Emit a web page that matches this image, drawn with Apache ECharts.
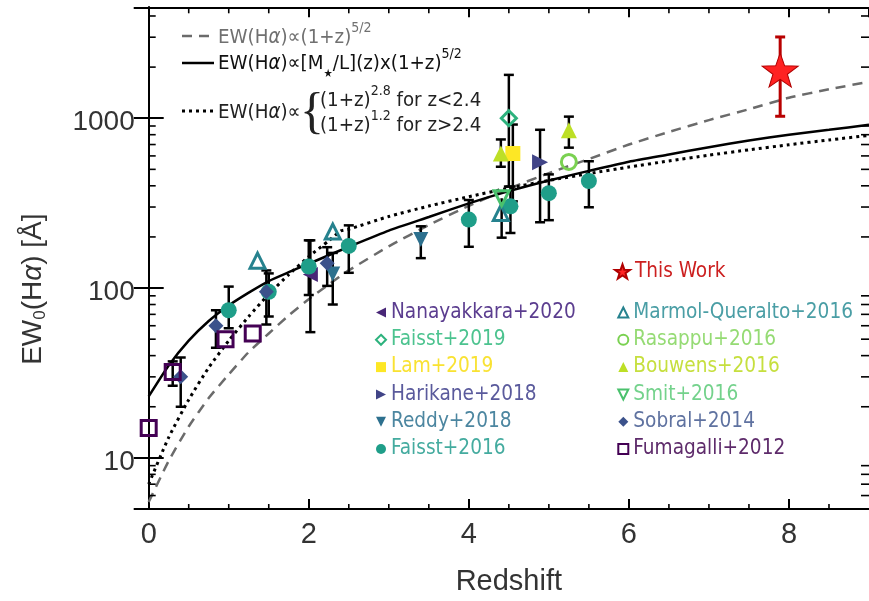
<!DOCTYPE html>
<html>
<head>
<meta charset="utf-8">
<title>EW(Hα) vs redshift</title>
<script src="https://cdn.jsdelivr.net/npm/echarts@6/dist/echarts.min.js"></script>
<style>
  html, body { margin: 0; padding: 0; background: #fff; }
  #chart { width: 869px; height: 601px; }
</style>
</head>
<body>
<div id="chart"></div>
<script>
// axis ticks
const xTicks = [0, 2, 4, 6, 8];
const xMinor = [0.5, 1, 1.5, 2.5, 3, 3.5, 4.5, 5, 5.5, 6.5, 7, 7.5, 8.5];
const yTicks = [10, 100, 1000];
const yMinor = [6, 7, 8, 9, 20, 30, 40, 50, 60, 70, 80, 90,
  200, 300, 400, 500, 600, 700, 800, 900, 2000, 3000, 4000];

// model curves
const zCurve = [0, 0.25, 0.5, 0.75, 1, 1.25, 1.5, 1.75, 2, 2.25, 2.5, 3, 3.5, 4, 4.5, 5, 5.5, 6, 6.5, 7, 7.5, 8, 8.5, 9];
const ewDashed = [5.5, 9.6, 15.3, 22.5, 31, 42, 54, 69, 86, 105, 127, 176, 235, 305, 385, 475, 575, 700, 830, 975, 1130, 1320, 1480, 1640];
const ewSolid = [23, 35, 49, 64, 79, 94, 110, 124, 139, 156, 175, 218, 262, 315, 372, 430, 490, 555, 612, 675, 740, 800, 855, 915];
const zDotted = [0, 0.25, 0.5, 0.75, 1, 1.25, 1.5, 1.75, 2, 2.25, 2.4, 2.5, 3, 3.5, 4, 4.5, 5, 5.5, 6, 6.5, 7, 7.5, 8, 8.5, 9];
const ewDotted = [7.0, 13.2, 22, 34, 49, 68, 92, 120, 153, 190, 217, 222, 264, 304, 345, 388, 430, 472, 516, 560, 606, 652, 698, 745, 792];

// measurements: [z, EW, lower, upper]  (no bounds = no error bar)
const nanayakkara2020 = [[2.02, 120, 55, 191]];
const faisst2019 = [[4.50, 1000, 396, 1800]];
const lam2019 = [[4.55, 620, 324, 918]];
const harikane2018 = [[4.89, 550, 244, 855]];
const reddy2018 = [[2.30, 121, 80, 161], [3.40, 193, 150, 231]];
const faisst2016 = [[1.0, 74, 58, 102], [1.5, 95, 68, 122], [2.0, 134, 91, 191], [2.5, 177, 123, 234],
  [4.0, 253, 175, 330], [4.52, 303, 211, 396], [5.0, 362, 251, 467], [5.5, 427, 299, 558]];
const marmol2016 = [[1.36, 145], [2.30, 215], [4.40, 277]];
const rasappu2016 = [[5.25, 553]];
const bouwens2016 = [[4.40, 620, 518, 750], [5.25, 850, 671, 1022]];
const smit2016 = [[4.41, 338, 198, 338]];
const sobral2014 = [[0.40, 30, 20, 39], [0.84, 60, 44.5, 74], [1.47, 95, 61, 127], [2.23, 140, 103, 174]];
const fumagalli2012 = [[0.0, 15], [0.30, 32, 26.6, 37], [0.96, 50], [1.30, 54]];
const thisWork = [[7.89, 1920, 1027, 3010]];

const X_MIN = 0, X_MAX = 9, Y_MIN = 5, Y_MAX = 4500;
const tickFont = "'Liberation Sans', Arial, sans-serif";
const textFont = "'DejaVu Sans Condensed', 'Liberation Sans', sans-serif";
const starPath = 'path://M0,-10L2.35,-3.24L9.51,-3.09L3.8,1.24L5.88,8.09L0,4L-5.88,8.09L-3.8,1.24L-9.51,-3.09L-2.35,-3.24Z';
const triLeft = 'path://M0,5L10,0L10,10Z';
const triRight = 'path://M0,0L10,5L0,10Z';
const triDown = 'path://M0,0L10,0L5,10Z';

const chart = echarts.init(document.getElementById('chart'));

function points(name, rows, symbol, size, color, hollow) {
  return {
    type: 'scatter', name: name, z: 4,
    data: rows.map(r => [r[0], r[1]]),
    symbol: symbol, symbolSize: size,
    itemStyle: hollow
      ? { color: 'rgba(255,255,255,0)', borderColor: color, borderWidth: 3, opacity: 1 }
      : { color: color, opacity: 1 }
  };
}

function errorBars(rows, color, width, cap) {
  return {
    type: 'custom', z: 3, silent: true, clip: false,
    data: rows.filter(r => r.length === 4),
    encode: { x: 0, y: 1 },
    renderItem: function (params, api) {
      const z = api.value(0), v = api.value(1), lo = api.value(2), hi = api.value(3);
      const a = api.coord([z, lo]), b = api.coord([z, hi]);
      const st = { stroke: color, lineWidth: width };
      const kids = [{ type: 'line', shape: { x1: a[0], y1: a[1], x2: b[0], y2: b[1] }, style: st }];
      if (lo < v) kids.push({ type: 'line', shape: { x1: a[0] - cap, y1: a[1], x2: a[0] + cap, y2: a[1] }, style: st });
      if (hi > v) kids.push({ type: 'line', shape: { x1: b[0] - cap, y1: b[1], x2: b[0] + cap, y2: b[1] }, style: st });
      return { type: 'group', children: kids };
    }
  };
}

const allRows = [].concat(nanayakkara2020, faisst2019, lam2019, harikane2018, reddy2018, faisst2016,
  marmol2016, rasappu2016, bouwens2016, smit2016, sobral2014, fumagalli2012);

const textColor = {
  'Nanayakkara+2020': '#5b3d8f', 'Faisst+2019': '#4cc38f', 'Lam+2019': '#f9e232',
  'Harikane+2018': '#5a5a9c', 'Reddy+2018': '#4c86a0', 'Faisst+2016': '#44ab9f',
  'Marmol-Queralto+2016': '#4a9ea5', 'Rasappu+2016': '#95db74', 'Bouwens+2016': '#c6df3e',
  'Smit+2016': '#74d28c', 'Sobral+2014': '#5f72a0', 'Fumagalli+2012': '#5e2b6b',
  'This Work': '#cc1f1f'
};
const leftNames = ['Nanayakkara+2020', 'Faisst+2019', 'Lam+2019', 'Harikane+2018', 'Reddy+2018', 'Faisst+2016'];
const rightNames = ['Marmol-Queralto+2016', 'Rasappu+2016', 'Bouwens+2016', 'Smit+2016', 'Sobral+2014', 'Fumagalli+2012'];

function legendCol(names, left, top, size) {
  return {
    orient: 'vertical', left: left, top: top, selectedMode: false,
    itemWidth: size, itemHeight: size, itemGap: 6.3, padding: 0,
    textStyle: { fontSize: 20.6, fontFamily: textFont, lineHeight: 20 },
    data: names.map(n => ({ name: n, textStyle: { color: textColor[n] } }))
  };
}

const axisLine = { show: true, lineStyle: { color: '#000', width: 2 } };

// rich styles for the curve legend (superscripts / subscripts)
const rich = {
  t: { fontSize: 20.3, fontFamily: textFont, lineHeight: 20, verticalAlign: 'middle' },
  i: { fontSize: 20.3, fontFamily: textFont, fontStyle: 'italic', lineHeight: 20, verticalAlign: 'middle' },
  s: { fontSize: 14, fontFamily: textFont, lineHeight: 36, verticalAlign: 'top', padding: [1, 0, 22, 0] },
  b: { fontSize: 11.5, fontFamily: textFont, lineHeight: 36, verticalAlign: 'bottom', padding: [0, 0, 2, 0] }
};

const option = {
  animation: false,
  backgroundColor: '#fff',
  grid: { left: 148.7, right: -5, top: 7.3, bottom: 87, containLabel: false },
  xAxis: [
    {
      type: 'value', min: X_MIN, max: X_MAX, interval: 2, position: 'bottom',
      axisLine: axisLine, splitLine: { show: false },
      axisTick: { inside: true, length: 10, lineStyle: { color: '#000', width: 2 } },
      axisLabel: {
        fontSize: 29, fontFamily: tickFont, color: '#333', margin: 11, showMaxLabel: false,
        formatter: v => (xTicks.indexOf(v) >= 0 ? String(v) : '')
      },
      name: 'Redshift', nameLocation: 'middle', nameGap: 58,
      nameTextStyle: { fontSize: 29, fontFamily: tickFont, color: '#333' }
    },
    {
      type: 'value', min: X_MIN, max: X_MAX, interval: 2, position: 'top',
      axisLine: axisLine, splitLine: { show: false }, axisLabel: { show: false },
      axisTick: { inside: true, length: 10, lineStyle: { color: '#000', width: 2 } }
    }
  ],
  yAxis: [
    {
      type: 'log', logBase: 10, min: Y_MIN, max: Y_MAX, position: 'left',
      axisLine: axisLine, splitLine: { show: false },
      axisTick: { inside: true, length: 15, lineStyle: { color: '#000', width: 2 } },
      axisLabel: {
        fontSize: 28, fontFamily: tickFont, color: '#333', margin: 14,
        showMinLabel: false, showMaxLabel: false, verticalAlign: 'top', lineHeight: 8,
        formatter: v => (yTicks.indexOf(Math.round(v)) >= 0 ? String(Math.round(v)) : '')
      },
      name: '{a|EW}{sub|0}{a|(H}{ai|α}{a|) [Å]}',
      nameLocation: 'middle', nameRotate: 90, nameGap: 100,
      nameTextStyle: {
        color: '#333', padding: [0, 62, 0, 0],
        rich: {
          a: { fontSize: 28, fontFamily: tickFont, color: '#333', lineHeight: 30, verticalAlign: 'middle' },
          ai: { fontSize: 28, fontFamily: tickFont, color: '#333', fontStyle: 'italic', lineHeight: 30, verticalAlign: 'middle' },
          sub: { fontSize: 17, fontFamily: tickFont, color: '#333', lineHeight: 18, verticalAlign: 'bottom', padding: [18, 0, 0, 0] }
        }
      }
    },
    {
      type: 'log', logBase: 10, min: Y_MIN, max: Y_MAX, position: 'right',
      axisLine: axisLine, splitLine: { show: false }, axisLabel: { show: false },
      axisTick: { inside: true, length: 15, lineStyle: { color: '#000', width: 2 } }
    }
  ],
  legend: [
    legendCol(leftNames, 375, 302, 10),
    legendCol(rightNames, 617.3, 302, 10),
    legendCol(['This Work'], 614, 261, 15)
  ],
  graphic: [
    { type: 'line', shape: { x1: 182, y1: 36, x2: 214, y2: 36 }, style: { stroke: '#6b6b6b', lineWidth: 2.5, lineDash: [10, 7] } },
    { type: 'line', shape: { x1: 182, y1: 63, x2: 214, y2: 63 }, style: { stroke: '#000', lineWidth: 2.5 } },
    { type: 'line', shape: { x1: 182, y1: 111, x2: 214, y2: 111 }, style: { stroke: '#000', lineWidth: 3, lineDash: [3, 4] } },
    {
      type: 'text', style: {
        x: 218, y: 38, verticalAlign: 'middle', fill: '#707070', rich: rich,
        text: '{t|EW(H}{i|α}{t|)∝(1+z)}{s|5/2}'
      }
    },
    {
      type: 'text', style: {
        x: 218, y: 64, verticalAlign: 'middle', fill: '#111', rich: rich,
        text: '{t|EW(H}{i|α}{t|)∝[M}{b|★}{t|/L](z)x(1+z)}{s|5/2}'
      }
    },
    {
      type: 'text', style: {
        x: 218, y: 113, verticalAlign: 'middle', fill: '#222', rich: rich,
        text: '{t|EW(H}{i|α}{t|)∝}'
      }
    },
    {
      type: 'text', style: {
        x: 300, y: 114, verticalAlign: 'middle', fill: '#222',
        text: '{', fontSize: 50, fontFamily: "'Liberation Serif', serif"
      }
    },
    {
      type: 'text', style: {
        x: 320, y: 101, verticalAlign: 'middle', fill: '#222', rich: rich,
        text: '{t|(1+z)}{s|2.8}{t| for z<2.4}'
      }
    },
    {
      type: 'text', style: {
        x: 320, y: 126, verticalAlign: 'middle', fill: '#222', rich: rich,
        text: '{t|(1+z)}{s|1.2}{t| for z>2.4}'
      }
    }
  ],
  series: [
    // minor ticks on all four sides, placed through the axes' own scales
    {
      type: 'custom', silent: true, clip: false, z: 6,
      data: xMinor.map(v => [v, 100]), encode: { x: 0, y: 1 },
      renderItem: function (params, api) {
        const x = api.coord([api.value(0), Y_MIN])[0];
        const yb = api.coord([0, Y_MIN])[1], yt = api.coord([0, Y_MAX])[1];
        const st = { stroke: '#000', lineWidth: 1.6 };
        return { type: 'group', children: [
          { type: 'line', shape: { x1: x, y1: yb, x2: x, y2: yb - 5 }, style: st },
          { type: 'line', shape: { x1: x, y1: yt, x2: x, y2: yt + 6 }, style: st }
        ] };
      }
    },
    {
      type: 'custom', silent: true, clip: false, z: 6,
      data: yMinor.map(v => [1, v]), encode: { x: 0, y: 1 },
      renderItem: function (params, api) {
        const y = api.coord([X_MIN, api.value(1)])[1];
        const xl = api.coord([X_MIN, 10])[0], xr = api.coord([X_MAX, 10])[0];
        const st = { stroke: '#000', lineWidth: 1.6 };
        return { type: 'group', children: [
          { type: 'line', shape: { x1: xl, y1: y, x2: xl + 7, y2: y }, style: st },
          { type: 'line', shape: { x1: xr, y1: y, x2: xr - 8, y2: y }, style: st }
        ] };
      }
    },
    {
      type: 'line', name: 'dashed', z: 2, silent: true, symbol: 'none', smooth: 0.2,
      data: zCurve.map((z, i) => [z, ewDashed[i]]),
      lineStyle: { color: '#6b6b6b', width: 2.5, type: [10, 7] }
    },
    {
      type: 'line', name: 'solid', z: 2, silent: true, symbol: 'none', smooth: 0.2,
      data: zCurve.map((z, i) => [z, ewSolid[i]]),
      lineStyle: { color: '#000', width: 2.5 }
    },
    {
      type: 'line', name: 'dotted', z: 2, silent: true, symbol: 'none', smooth: 0.2,
      data: zDotted.map((z, i) => [z, ewDotted[i]]),
      lineStyle: { color: '#000', width: 3, type: [3, 4] }
    },
    errorBars(allRows, '#000', 2.5, 5),
    errorBars(thisWork, '#b80000', 3, 5),
    points('Nanayakkara+2020', nanayakkara2020, triLeft, 15, '#482677', false),
    points('Faisst+2019', faisst2019, 'diamond', 15, '#2db27d', true),
    points('Lam+2019', lam2019, 'rect', 15, '#fde725', false),
    points('Harikane+2018', harikane2018, triRight, 16, '#414487', false),
    points('Reddy+2018', reddy2018, triDown, 15, '#2d708e', false),
    points('Faisst+2016', faisst2016, 'circle', 16, '#1f9e89', false),
    points('Marmol-Queralto+2016', marmol2016, 'triangle', 15, '#26828e', true),
    points('Rasappu+2016', rasappu2016, 'circle', 15, '#7ad151', true),
    points('Bouwens+2016', bouwens2016, 'triangle', 16, '#bddf26', false),
    points('Smit+2016', smit2016, triDown, 15, '#4ac16d', true),
    points('Sobral+2014', sobral2014, 'diamond', 15, '#3b528b', false),
    points('Fumagalli+2012', fumagalli2012, 'rect', 15, '#440154', true),
    {
      type: 'scatter', name: 'This Work', z: 5,
      data: thisWork.map(r => [r[0], r[1]]),
      symbol: starPath, symbolSize: [36, 34],
      itemStyle: { color: '#ff2222', borderColor: '#b00000', borderWidth: 1, opacity: 1 }
    }
  ]
};

chart.setOption(option);
</script>
</body>
</html>
